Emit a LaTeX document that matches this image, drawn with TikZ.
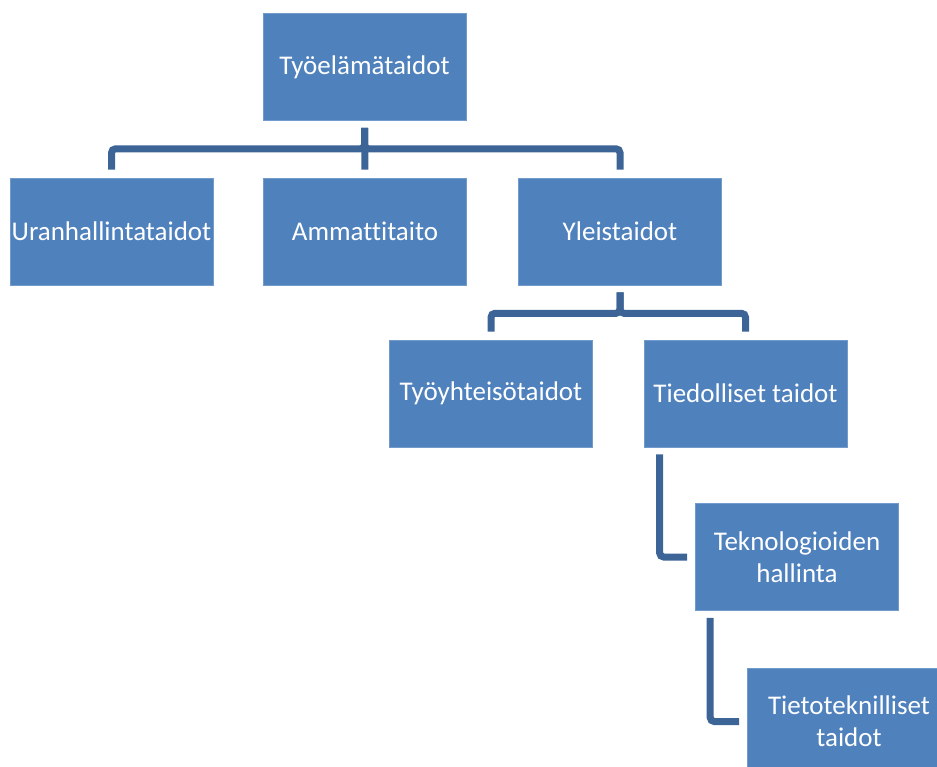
\documentclass[tikz,border=0pt]{standalone}
\usepackage{fontspec}
\setmainfont[Ligatures=NoCommon]{Carlito}
\definecolor{boxblue}{HTML}{4F81BD}
\definecolor{lineblue}{HTML}{3C6496}
\tikzset{
  skill/.style={fill=boxblue, draw=boxblue!80!white, line width=0.6pt, text=white,
    minimum width=203pt, minimum height=107pt, inner sep=0pt, align=center,
    font=\fontsize{27}{32}\selectfont},
  link/.style={draw=lineblue, line width=7pt, rounded corners=4pt,
    shorten <=7pt, shorten >=8pt}
}
\begin{document}
\begin{tikzpicture}[x=1pt,y=-1pt]
\useasboundingbox (0,0) rectangle (937,767);
% boxes
\node[skill] (tyoel) at (364.5,67) {Työelämätaidot};
\node[skill] (uran) at (111.5,231.5) {Uranhallintataidot};
\node[skill] (amm) at (365,231.5) {Ammattitaito};
\node[skill] (ylei) at (620,231.5) {Yleistaidot};
\node[skill] (tyoyht) at (491,393.5) {Työyhteisötaidot};
\node[skill] (tied) at (745.5,393.5) {Tiedolliset taidot};
\node[skill] (tekno) at (797,557) {Teknologioiden\\hallinta};
\node[skill] (tieto) at (849,721.5) {Tietoteknilliset\\taidot};
% connectors
\draw[link] (tyoel.south) -- (amm.north);
\draw[link] (tyoel.south) -- ++(0,28) -| (uran.north);
\draw[link] (tyoel.south) -- ++(0,28) -| (ylei.north);
\draw[link] (ylei.south) -- ++(0,28) -| (tyoyht.north);
\draw[link] (ylei.south) -- ++(0,28) -| (tied.north);
\draw[link] ([xshift=16pt]tied.south west) |- (tekno.west);
\draw[link] ([xshift=15pt]tekno.south west) |- (tieto.west);
\end{tikzpicture}
\end{document}
